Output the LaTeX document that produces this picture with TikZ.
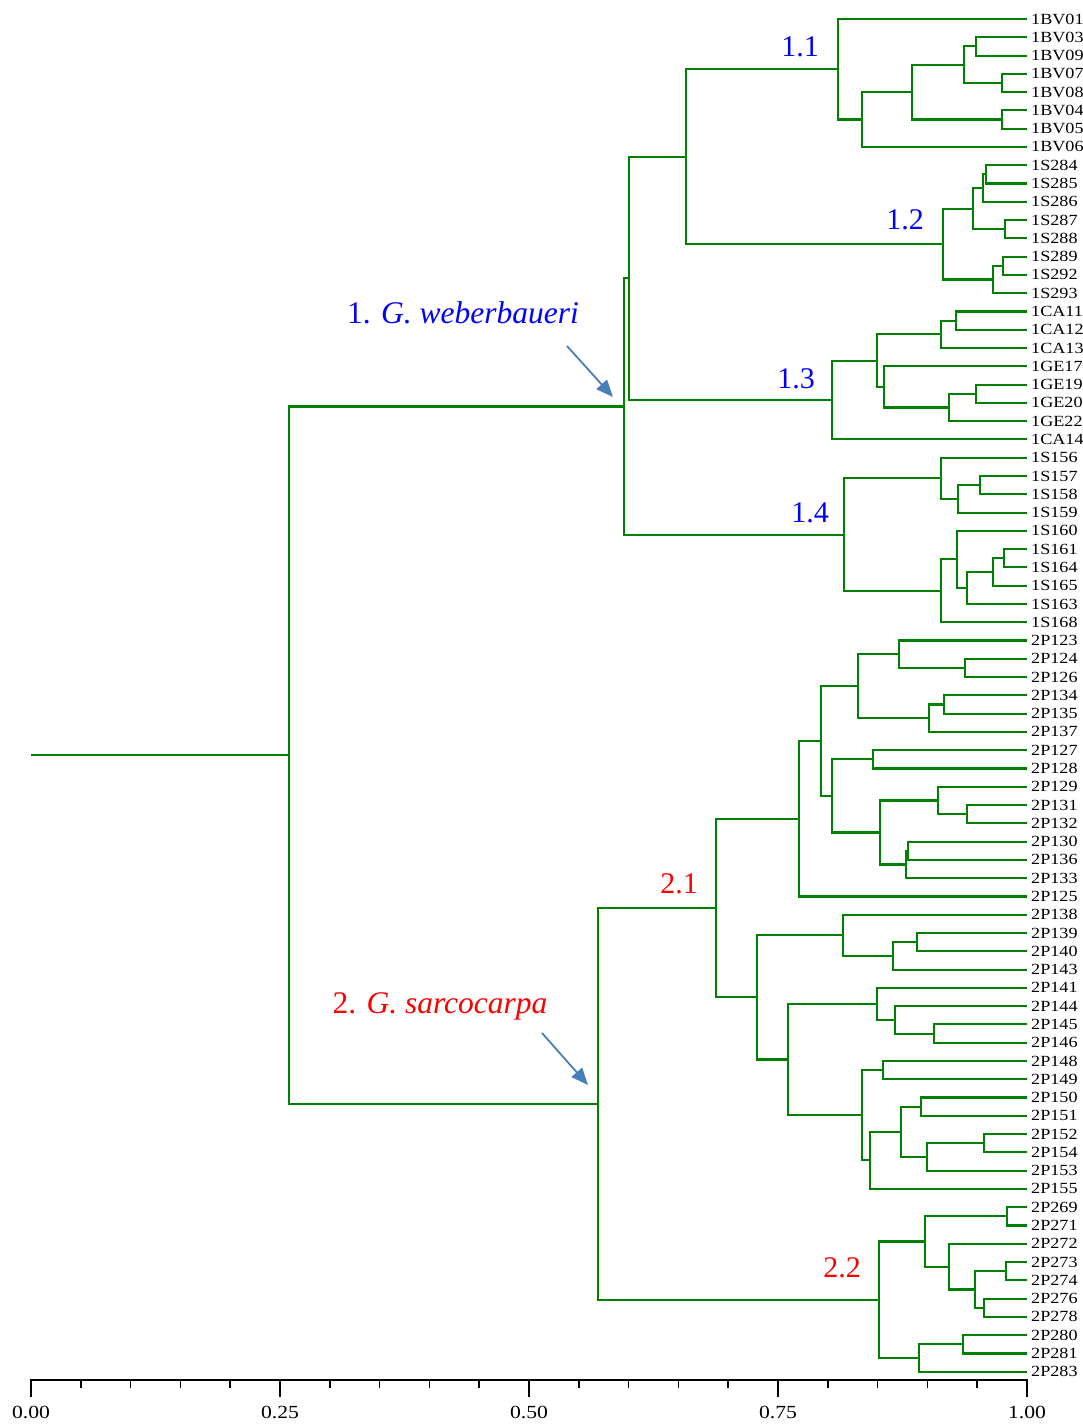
\documentclass[tikz,border=0pt]{standalone}
\usepackage{fontspec}
\usepackage{graphicx}
\setmainfont{Liberation Serif}
\usetikzlibrary{calc,arrows.meta}
\definecolor{treegreen}{RGB}{0,128,0}
\definecolor{arrowblue}{RGB}{74,126,187}
\definecolor{lblblue}{RGB}{0,0,255}
\definecolor{lblred}{RGB}{255,0,0}
\tikzset{
  br/.style={draw=treegreen, line width=2.1pt, line join=miter},
  leaf/.style={anchor=west, inner sep=0pt, font=\fontsize{15.5}{18}\selectfont},
  clab/.style={anchor=base, inner sep=0pt, font=\fontsize{30}{36}\selectfont},
  glab/.style={anchor=base, inner sep=0pt, font=\fontsize{31.5}{38}\selectfont},
  pointer/.style={draw=arrowblue, line width=1.8pt, -{Triangle[length=17pt,width=14pt]}},
  axisline/.style={draw=black, line width=2pt},
  tickline/.style={draw=black, line width=1.5pt},
  ticklab/.style={anchor=center, inner sep=0pt, font=\fontsize{18.5}{22}\selectfont}
}
\newcommand\clade[4]{%
  \path let \p1=(#3), \p2=(#4) in coordinate (#1) at (#2pt,{(\y1+\y2)/2});
  \draw[br] (#3) -| (#1) |- (#4);
}
\newcommand\wide[1]{\scalebox{1.17}[1]{#1}}
\begin{document}
\begin{tikzpicture}[x=1pt,y=-1pt]
\useasboundingbox (0,0) rectangle (1083,1426);
% leaves
\foreach \name [count=\i from 0] in {1BV01,1BV03,1BV09,1BV07,1BV08,1BV04,1BV05,1BV06,1S284,1S285,1S286,1S287,1S288,1S289,1S292,1S293,1CA11,1CA12,1CA13,1GE17,1GE19,1GE20,1GE22,1CA14,1S156,1S157,1S158,1S159,1S160,1S161,1S164,1S165,1S163,1S168,2P123,2P124,2P126,2P134,2P135,2P137,2P127,2P128,2P129,2P131,2P132,2P130,2P136,2P133,2P125,2P138,2P139,2P140,2P143,2P141,2P144,2P145,2P146,2P148,2P149,2P150,2P151,2P152,2P154,2P153,2P155,2P269,2P271,2P272,2P273,2P274,2P276,2P278,2P280,2P281,2P283}{
  \coordinate (leaf\i) at (1027,{19+18.28*\i});
  \node[leaf] (lab\i) at ([xshift=4pt]leaf\i) {\wide{\name}};
}
% cluster 1.1
\clade{e1}{976}{leaf1}{leaf2}
\clade{f1}{1002}{leaf3}{leaf4}
\clade{g1}{964}{e1}{f1}
\clade{d1}{1002}{leaf5}{leaf6}
\clade{b1}{912}{g1}{d1}
\clade{a1}{862}{b1}{leaf7}
\clade{r11}{838}{leaf0}{a1}
% cluster 1.2
\clade{g2}{986}{leaf8}{leaf9}
\clade{h2}{983}{g2}{leaf10}
\clade{j2}{1005}{leaf11}{leaf12}
\clade{i2}{973}{h2}{j2}
\clade{n2}{1003}{leaf13}{leaf14}
\clade{m2}{993}{n2}{leaf15}
\clade{r12}{943}{i2}{m2}
\clade{p12}{686}{r11}{r12}
% cluster 1.3
\clade{q3}{956}{leaf16}{leaf17}
\clade{r3}{941}{q3}{leaf18}
\clade{s3}{976}{leaf20}{leaf21}
\clade{t3}{949}{s3}{leaf22}
\clade{u3}{884}{leaf19}{t3}
\clade{v3}{877}{r3}{u3}
\clade{r13}{832}{v3}{leaf23}
\clade{p123}{629}{p12}{r13}
% cluster 1.4
\clade{a4}{980}{leaf25}{leaf26}
\clade{b4}{958}{a4}{leaf27}
\clade{c4}{941}{leaf24}{b4}
\clade{d4}{1004}{leaf29}{leaf30}
\clade{e4}{993}{d4}{leaf31}
\clade{f4}{967}{e4}{leaf32}
\clade{g4}{957}{leaf28}{f4}
\clade{h4}{941}{g4}{leaf33}
\clade{r14}{844}{c4}{h4}
\clade{r1}{624}{p123}{r14}
% cluster 2.1
\clade{a5}{965}{leaf35}{leaf36}
\clade{b5}{899}{leaf34}{a5}
\clade{c5}{944}{leaf37}{leaf38}
\clade{d5}{929}{c5}{leaf39}
\clade{e5}{858}{b5}{d5}
\clade{f5}{873}{leaf40}{leaf41}
\clade{k5}{967}{leaf43}{leaf44}
\clade{i5}{938}{leaf42}{k5}
\clade{l5}{908}{leaf45}{leaf46}
\clade{j5}{906}{l5}{leaf47}
\clade{h5}{880}{i5}{j5}
\clade{g5}{832}{f5}{h5}
\clade{m5}{821}{e5}{g5}
\clade{n5}{799}{m5}{leaf48}
\clade{q5}{917}{leaf50}{leaf51}
\clade{r5}{893}{q5}{leaf52}
\clade{s5}{843}{leaf49}{r5}
\clade{y5}{934}{leaf55}{leaf56}
\clade{x5}{895}{leaf54}{y5}
\clade{v5}{877}{leaf53}{x5}
\clade{z5}{883}{leaf57}{leaf58}
\clade{cc5}{921}{leaf59}{leaf60}
\clade{ee5}{984}{leaf61}{leaf62}
\clade{dd5}{927}{ee5}{leaf63}
\clade{bb5}{901}{cc5}{dd5}
\clade{aa5}{870}{bb5}{leaf64}
\clade{w5}{862}{z5}{aa5}
\clade{u5}{788}{v5}{w5}
\clade{t5}{757}{s5}{u5}
\clade{o5}{716}{n5}{t5}
% cluster 2.2
\clade{a6}{1007}{leaf65}{leaf66}
\clade{b6}{1006}{leaf68}{leaf69}
\clade{c6}{984}{leaf70}{leaf71}
\clade{d6}{975}{b6}{c6}
\clade{e6}{949}{leaf67}{d6}
\clade{f6}{925}{a6}{e6}
\clade{i6}{963}{leaf72}{leaf73}
\clade{h6}{919}{i6}{leaf74}
\clade{g6}{879}{f6}{h6}
\clade{r2}{598}{o5}{g6}
\clade{root}{289}{r1}{r2}
\path let \p1=(root) in coordinate (stem) at (31pt,\y1);
\draw[br] (stem) -- (root);
% cluster labels
\node[clab, text=lblblue] (L11) at (800,57) {1.1};
\node[clab, text=lblblue] (L12) at (905,229) {1.2};
\node[clab, text=lblblue] (L13) at (796,388) {1.3};
\node[clab, text=lblblue] (L14) at (810,522) {1.4};
\node[clab, text=lblred] (L21) at (679,893) {2.1};
\node[clab, text=lblred] (L22) at (842,1277) {2.2};
\node[glab, text=lblblue] (G1) at (463,323) {1. \textit{G. weberbaueri}};
\node[glab, text=lblred] (G2) at (440,1013) {2. \textit{G. sarcocarpa}};
% pointers
\coordinate (p1s) at (567,346);
\coordinate (p1e) at (613,397);
\coordinate (p2s) at (542,1033);
\coordinate (p2e) at (588,1085);
\draw[pointer] (p1s) -- (p1e);
\draw[pointer] (p2s) -- (p2e);
% axis
\draw[axisline] (30,1380) -- (1028,1380);
\foreach \k in {0,...,20}{
  \draw[tickline] ({31+49.8*\k},1380) -- ({31+49.8*\k},1388);
}
\foreach \k/\t in {0/0.00,1/0.25,2/0.50,3/0.75,4/1.00}{
  \draw[tickline] ({31+249*\k},1380) -- ({31+249*\k},1397);
  \node[ticklab] (tk\k) at ({31+249*\k},1412) {\wide{\t}};
}
\end{tikzpicture}
\end{document}
